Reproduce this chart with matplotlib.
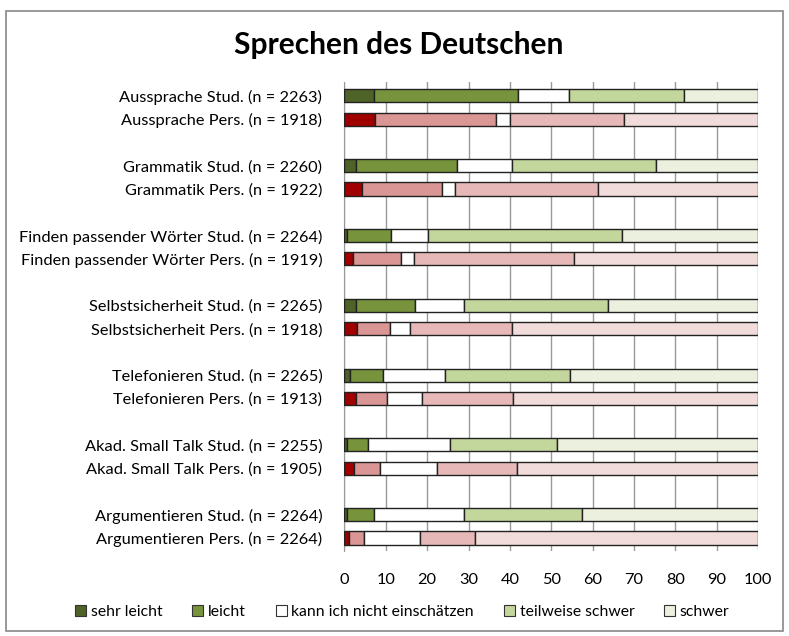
import numpy as np
import matplotlib.pyplot as plt
from matplotlib.patches import Rectangle, Patch

plt.rcParams['font.family'] = ['Lato', 'DejaVu Sans']

labels = [
    'Aussprache Stud. (n = 2263)', 'Aussprache Pers. (n = 1918)',
    'Grammatik Stud. (n = 2260)', 'Grammatik Pers. (n = 1922)',
    'Finden passender Wörter Stud. (n = 2264)', 'Finden passender Wörter Pers. (n = 1919)',
    'Selbstsicherheit Stud. (n = 2265)', 'Selbstsicherheit Pers. (n = 1918)',
    'Telefonieren Stud. (n = 2265)', 'Telefonieren Pers. (n = 1913)',
    'Akad. Small Talk Stud. (n = 2255)', 'Akad. Small Talk Pers. (n = 1905)',
    'Argumentieren Stud. (n = 2264)', 'Argumentieren Pers. (n = 2264)',
]
categories = ['sehr leicht', 'leicht', 'kann ich nicht einschätzen', 'teilweise schwer', 'schwer']

sehr_leicht = [7.2, 7.5, 2.8, 4.3, 0.6, 2.1, 2.7, 3.1, 1.3, 2.8, 0.6, 2.3, 0.6, 1.2]
leicht      = [34.8, 29.1, 24.5, 19.3, 10.6, 11.6, 14.4, 7.8, 8.1, 7.6, 5.1, 6.3, 6.6, 3.5]
kann_nicht  = [12.4, 3.3, 13.2, 3.1, 9.1, 3.2, 11.9, 4.9, 14.8, 8.4, 19.8, 13.7, 21.8, 13.6]
teilweise   = [27.8, 27.6, 34.9, 34.7, 46.9, 38.7, 34.7, 24.7, 30.3, 22.0, 25.9, 19.4, 28.4, 13.3]
schwer      = [17.8, 32.5, 24.6, 38.6, 32.8, 44.4, 36.3, 59.5, 45.5, 59.2, 48.6, 58.3, 42.6, 68.4]

stud_colors = ['#4F6228', '#77933C', '#FFFFFF', '#C3D69B', '#EBF1DE']
pers_colors = ['#A00000', '#D99694', '#FFFFFF', '#E6B9B8', '#F2DCDB']

fig = plt.figure(figsize=(7.89, 6.36), dpi=100)
fig.patches.append(Rectangle((0.008, 0.008), 0.984, 0.975, transform=fig.transFigure,
                             fill=False, edgecolor='#888888', linewidth=1.2))
ax = fig.add_axes([0.4366, 0.1336, 0.5242, 0.7375])

ypos = np.array([3 * (i // 2) + (i % 2) for i in range(len(labels))])
series = [sehr_leicht, leicht, kann_nicht, teilweise, schwer]
left = np.zeros(len(labels))
for k, vals in enumerate(series):
    vals = np.array(vals)
    cols = [stud_colors[k] if i % 2 == 0 else pers_colors[k] for i in range(len(labels))]
    ax.barh(ypos, vals, left=left, height=0.56, color=cols,
            edgecolor='#222222', linewidth=1.0, zorder=3)
    left += vals

ax.set_xlim(0, 100)
ax.set_ylim(ypos[-1] + 0.56, -0.6)
ax.set_xticks(np.arange(0, 101, 10))
ax.set_yticks(ypos)
ax.set_yticklabels(labels, fontsize=11.8)
ax.tick_params(axis='y', length=0, pad=16)
ax.tick_params(axis='x', length=0, pad=16, labelsize=11.8)
ax.grid(axis='x', color='#999999', linewidth=1.0, zorder=0)
for s in ['top', 'right', 'bottom']:
    ax.spines[s].set_visible(False)
ax.spines['left'].set_color('#999999')

fig.text(0.505, 0.93, 'Sprechen des Deutschen', ha='center', va='center',
         fontsize=21.5, fontweight='bold')

handles = [Patch(facecolor=stud_colors[k], edgecolor='#333333', linewidth=0.8)
           for k in range(5)]
fig.legend(handles, categories, loc='center', bbox_to_anchor=(0.51, 0.038), ncol=5,
           frameon=False, fontsize=11.3, handlelength=0.7, handleheight=0.7,
           handletextpad=0.3, columnspacing=1.9)

fig.savefig('out.png', dpi=100)
